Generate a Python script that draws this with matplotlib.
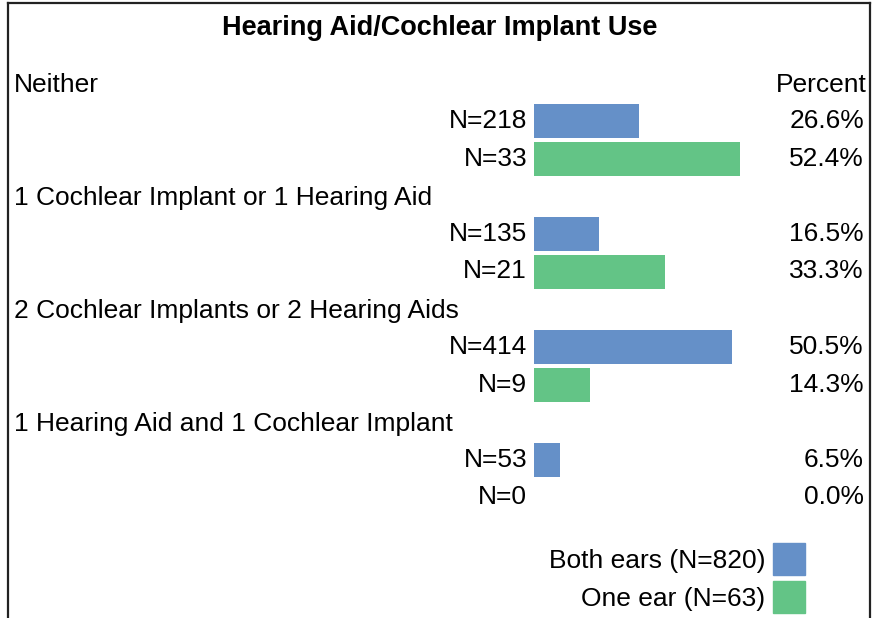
import matplotlib.pyplot as plt
import matplotlib.transforms as mtransforms
from matplotlib.patches import Patch

plt.rcParams['font.family'] = ['Liberation Sans', 'DejaVu Sans']

# data
categories = ['Neither',
              '1 Cochlear Implant or 1 Hearing Aid',
              '2 Cochlear Implants or 2 Hearing Aids',
              '1 Hearing Aid and 1 Cochlear Implant']
both_n = [218, 135, 414, 53]
both_pct = [26.6, 16.5, 50.5, 6.5]
one_n = [33, 21, 9, 0]
one_pct = [52.4, 33.3, 14.3, 0.0]
series_labels = ['Both ears (N=820)', 'One ear (N=63)']

blue = '#6590c8'
green = '#63c486'
fs = 19

fig = plt.figure(figsize=(8.74, 6.18), dpi=100)
ax = fig.add_axes([0, 0, 1, 1])
# x in percent, bars start at pixel 534, ~3.93 px per percent
px_per = 3.93
x0 = 534
ax.set_xlim(-x0 / px_per, (874 - x0) / px_per)
ax.set_ylim(618, 0)  # y in pixels from the top
ax.axis('off')

trans = mtransforms.blended_transform_factory(fig.transFigure, ax.transData)

pitch = 113
for g, cat in enumerate(categories):
    ylab = 85 + pitch * g
    yb = ylab + 36
    yg = ylab + 73.5
    ax.barh(yb, both_pct[g], height=34, color=blue)
    ax.barh(yg, one_pct[g], height=34, color=green)
    ax.text(14 / 874, ylab, cat, transform=trans, fontsize=fs, va='center', ha='left')
    ax.text(527 / 874, yb, f'N={both_n[g]}', transform=trans, fontsize=fs, va='center', ha='right')
    ax.text(527 / 874, yg, f'N={one_n[g]}', transform=trans, fontsize=fs, va='center', ha='right')
    ax.text(864 / 874, yb, f'{both_pct[g]:.1f}%', transform=trans, fontsize=fs, va='center', ha='right')
    ax.text(864 / 874, yg, f'{one_pct[g]:.1f}%', transform=trans, fontsize=fs, va='center', ha='right')

ax.text(867 / 874, 85, 'Percent', transform=trans, fontsize=fs, va='center', ha='right')
fig.text(440 / 874, 1 - 28 / 618, 'Hearing Aid/Cochlear Implant Use', fontsize=19.5,
         fontweight='bold', ha='center', va='center')

handles = [Patch(color=blue), Patch(color=green)]
fig.legend(handles, series_labels, loc='upper right', bbox_to_anchor=(805 / 874, 1 - 543 / 618),
           frameon=False, markerfirst=False, fontsize=fs, handlelength=1.21, handleheight=1.5,
           handletextpad=0.3, labelspacing=0.22, borderpad=0, borderaxespad=0)

# outer frame (left, top, right)
fig.add_artist(plt.Line2D([8 / 874, 8 / 874], [0, 1 - 3 / 618], color='#222222', lw=1.6))
fig.add_artist(plt.Line2D([8 / 874, 870 / 874], [1 - 3 / 618, 1 - 3 / 618], color='#222222', lw=1.6))
fig.add_artist(plt.Line2D([870 / 874, 870 / 874], [0, 1 - 3 / 618], color='#222222', lw=1.6))

fig.savefig('out.png', dpi=100)
